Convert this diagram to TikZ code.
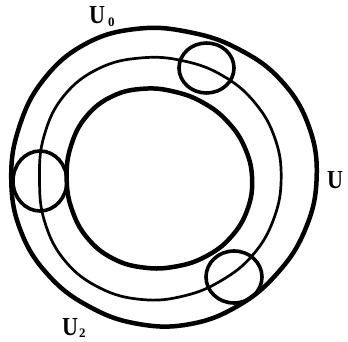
\documentclass[tikz,border=0pt]{standalone}
\usepackage{fontspec}
\setmainfont{Liberation Serif}
\newcommand{\bigU}{\scalebox{0.85}[1]{U}}
\begin{document}
\begin{tikzpicture}[x=1pt,y=-1pt,
  thickring/.style={line width=4.5pt,line join=round},
  thinring/.style={line width=2.7pt},
  blob/.style={line width=3.6pt},
  lab/.style={inner sep=0pt,anchor=base west,font=\fontsize{26}{26}\selectfont\bfseries}]
\useasboundingbox (0,0) rectangle (348,342);
% outer ring
\begin{scope}[shift={(163.5,179)}]
\draw[thickring] plot[smooth cycle,tension=0.7] coordinates {
 (-0:153.1) (-20:154.6) (-40:153.4) (-60:150) (-80:149.1) (-100:152.5)
 (-120:156) (-140:155.75) (-160:153.4) (-180:152.25) (-200:151.9) (-220:150)
 (-240:147.6) (-260:147.1) (-280:147.5) (-300:147.1) (-320:147.75) (-340:150.4)};
\end{scope}
% middle ring
\begin{scope}[shift={(163,179)}]
\draw[thinring] plot[smooth cycle,tension=0.7] coordinates {
 (-0:118.15) (-20:119.1) (-40:119.4) (-60:119.3) (-80:119.85) (-100:123)
 (-120:127.75) (-140:129.4) (-160:126.5) (-180:123.5) (-200:125.8) (-220:127.65)
 (-240:125.9) (-260:122.35) (-280:118.8) (-300:117.1) (-320:117.6) (-340:117.7)};
\end{scope}
% inner ring
\begin{scope}[shift={(160,178)}]
\draw[thickring] plot[smooth cycle,tension=0.7] coordinates {
 (-0:92.1) (-20:90.05) (-40:87.95) (-60:86.8) (-80:87.45) (-100:90.7)
 (-120:94.6) (-140:96) (-160:94.65) (-180:93.35) (-200:93.6) (-220:94.2)
 (-240:93.25) (-260:91) (-280:89.9) (-300:90.8) (-320:92.3) (-340:92.95)};
\end{scope}
% blobs
\draw[blob] (206.5,68) ellipse [x radius=27.5pt,y radius=25pt];
\draw[blob] (40,181) ellipse [x radius=27pt,y radius=30pt];
\draw[blob] (234,277) ellipse [x radius=28pt,y radius=26pt];
% labels
\node[lab] (u0) at (89,24) {\bigU\hspace{3pt}\raisebox{-3pt}{\fontsize{13}{13}\selectfont 0}};
\node[lab] (u) at (327,188) {\bigU};
\node[lab] (u2) at (62,335) {\bigU\hspace{1pt}\raisebox{-2pt}{\fontsize{13}{13}\selectfont 2}};
\end{tikzpicture}
\end{document}
